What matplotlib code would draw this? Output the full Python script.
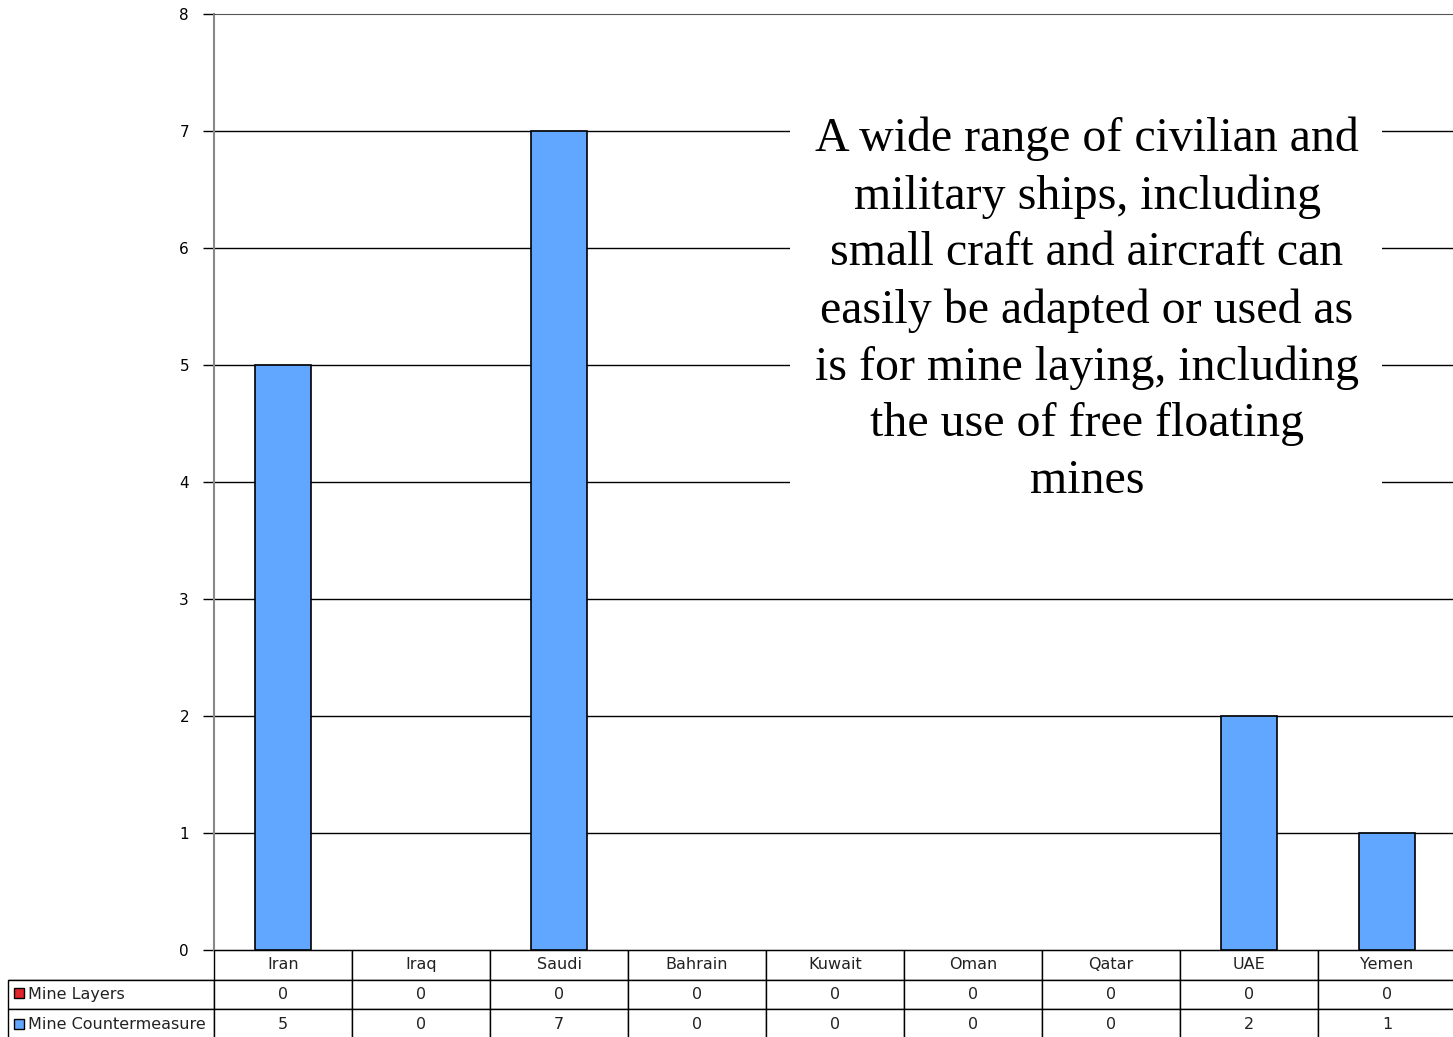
import numpy as np
import matplotlib
matplotlib.use('Agg')
import matplotlib.pyplot as plt
from matplotlib.patches import Rectangle

countries = ['Iran', 'Iraq', 'Saudi', 'Bahrain', 'Kuwait', 'Oman', 'Qatar', 'UAE', 'Yemen']
mine_layers = [0, 0, 0, 0, 0, 0, 0, 0, 0]
mine_cm = [5, 0, 7, 0, 0, 0, 0, 2, 1]
series_names = ['Mine Layers', 'Mine Countermeasure']
red = '#e0262a'
blue = '#62a7ff'
note = ('A wide range of civilian and\nmilitary ships, including\nsmall craft and aircraft can\n'
        'easily be adapted or used as\nis for mine laying, including\nthe use of free floating\nmines')

W, H = 1453, 1037
fig = plt.figure(figsize=(W / 100, H / 100), dpi=100)
ax = fig.add_axes([214 / W, 87 / H, 1242 / W, 936 / H])

x = np.arange(len(countries))
# zero-height red bars (Mine Layers), then the blue series
ax.bar(x, mine_layers, 0.4, color=red, linewidth=0, zorder=3)
ax.bar(x, mine_cm, 0.4, color=blue, edgecolor='black',
       linewidth=[1.2 if v else 0 for v in mine_cm], zorder=3)

ax.set_xlim(-0.5, len(countries) - 0.5)
ax.set_ylim(0, 8)
ax.set_yticks(range(9))
ax.tick_params(axis='y', length=8, width=1, labelsize=11, pad=10, colors='black')
ax.set_xticks([])
for v in range(1, 8):
    ax.axhline(v, color='black', lw=1, zorder=1)
ax.spines['right'].set_visible(False)
ax.spines['top'].set_color('#555555')
ax.spines['left'].set_color('#888888')
ax.spines['left'].set_linewidth(1.5)
ax.spines['bottom'].set_color('black')

# data table under the plot
cells = [[''] + countries,
         [series_names[0]] + [str(v) for v in mine_layers],
         [series_names[1]] + [str(v) for v in mine_cm]]
lab_w = 206 / 1242
tab = ax.table(cellText=cells, cellLoc='center',
               colWidths=[206] + [138] * len(countries),
               bbox=[-lab_w, -89 / 936, 1 + lab_w, 89 / 936])
tab.auto_set_font_size(False)
tab.set_fontsize(11.5)
for (r, c), cell in tab.get_celld().items():
    cell.set_linewidth(1)
    cell.get_text().set_color('#222222')
    if c == 0:
        cell.get_text().set_ha('left')
        cell._loc = 'left'
        cell.PAD = 0.095
    if r == 0 and c == 0:
        cell.visible_edges = 'B'

# small colour keys in the row labels
for i, col in enumerate([red, blue]):
    yc = H - (993 + 31 * i)
    fig.patches.append(Rectangle((14 / W, (yc - 5) / H), 10 / W, 10 / H,
                                 transform=fig.transFigure, facecolor=col,
                                 edgecolor='black', linewidth=1, zorder=5))

# white note box over the grid
fig.patches.append(Rectangle((790 / W, 1 - 560 / H), 592 / W, 460 / H,
                             transform=fig.transFigure, facecolor='white',
                             edgecolor='none', zorder=4))
fig.text(1087 / W, 1 - 310 / H, note, ha='center', va='center',
         family='Liberation Serif', fontsize=34.5, linespacing=1.37, zorder=6)

fig.savefig('out.png', dpi=100)
